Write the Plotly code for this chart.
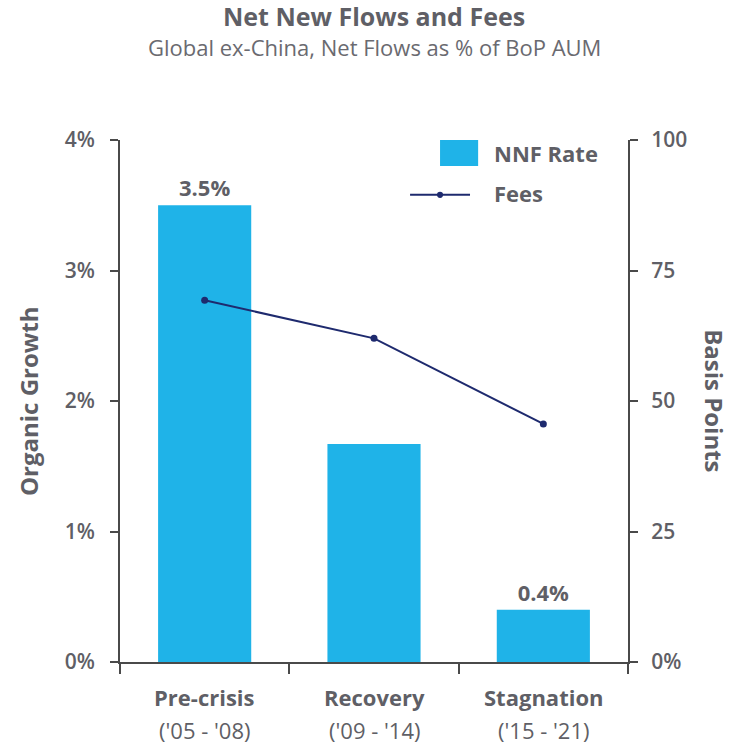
import plotly.graph_objects as go

# Data
periods = ["Pre-crisis", "Recovery", "Stagnation"]
period_years = ["('05 - '08)", "('09 - '14)", "('15 - '21)"]
nnf_rate = [3.5, 1.67, 0.4]          # organic growth, % of BoP AUM
nnf_labels = ["3.5%", "", "0.4%"]
fees_bp = [69.3, 62.0, 45.6]         # basis points

left_ticks = [0, 1, 2, 3, 4]
left_tick_text = ["0%", "1%", "2%", "3%", "4%"]
right_ticks = [0, 25, 50, 75, 100]
right_tick_text = ["0%", "25", "50", "75", "100"]

BAR_COLOR = "#1FB3E8"
LINE_COLOR = "#1E2A6E"
AXIS_COLOR = "#4a4a4a"
TEXT_COLOR = "#5f5f66"
FONT = "Open Sans"

x_idx = list(range(len(periods)))

fig = go.Figure()

fig.add_trace(go.Bar(
    x=x_idx, y=nnf_rate, width=0.55,
    marker=dict(color=BAR_COLOR, line=dict(width=0)),
    text=nnf_labels, textposition="outside", cliponaxis=False,
    textfont=dict(family=FONT, size=22, color=TEXT_COLOR, weight="bold"),
    name="NNF Rate", showlegend=False,
))

fig.add_trace(go.Scatter(
    x=x_idx, y=fees_bp, yaxis="y2", mode="lines+markers",
    line=dict(color=LINE_COLOR, width=2),
    marker=dict(color=LINE_COLOR, size=7),
    name="Fees", showlegend=False,
))

axis_common = dict(
    showline=True, linecolor=AXIS_COLOR, linewidth=2,
    ticks="outside", tickcolor=AXIS_COLOR, tickwidth=2, ticklen=8,
    showgrid=False, zeroline=False,
    tickfont=dict(family=FONT, size=21, color=TEXT_COLOR, weight=600),
)

fig.update_layout(
    width=735, height=747,
    margin=dict(l=120, r=107, t=140, b=85),
    paper_bgcolor="white", plot_bgcolor="white",
    xaxis=dict(
        range=[-0.5, 2.5], tickvals=[-0.5, 0.5, 1.5, 2.5], ticktext=["", "", "", ""],
        showline=True, linecolor=AXIS_COLOR, linewidth=2,
        ticks="outside", tickcolor=AXIS_COLOR, tickwidth=2, ticklen=10,
        showgrid=False, zeroline=False,
    ),
    yaxis=dict(range=[0, 4], tickvals=left_ticks, ticktext=left_tick_text,
               ticklabelstandoff=11, **axis_common),
    yaxis2=dict(range=[0, 100], tickvals=right_ticks, ticktext=right_tick_text,
                overlaying="y", side="right", ticklabelstandoff=9, **axis_common),
)

ann = []
# Title and subtitle
ann.append(dict(text="<b>Net New Flows and Fees</b>", xref="paper", yref="paper",
                x=0.5, y=1.0, yshift=124, xanchor="center", yanchor="middle", showarrow=False,
                font=dict(family=FONT, size=25, color=TEXT_COLOR)))
ann.append(dict(text="Global ex-China, Net Flows as % of BoP AUM", xref="paper", yref="paper",
                x=0.5, y=1.0, yshift=93, xanchor="center", yanchor="middle", showarrow=False,
                font=dict(family=FONT, size=22, color="#6a6a70")))
# Axis titles
ann.append(dict(text="<b>Organic Growth</b>", xref="paper", yref="paper",
                x=-0.181, y=0.5, xanchor="center", yanchor="middle", textangle=-90,
                showarrow=False, font=dict(family=FONT, size=24, color=TEXT_COLOR)))
ann.append(dict(text="<b>Basis Points</b>", xref="paper", yref="paper",
                x=1.171, y=0.5, xanchor="center", yanchor="middle", textangle=90,
                showarrow=False, font=dict(family=FONT, size=24, color=TEXT_COLOR)))
# Category labels (two lines)
for i, (p, yr) in enumerate(zip(periods, period_years)):
    ann.append(dict(text=f"<b>{p}</b>", x=i, xref="x", yref="paper", y=0, yshift=-35,
                    showarrow=False, yanchor="middle",
                    font=dict(family=FONT, size=22, color=TEXT_COLOR)))
    ann.append(dict(text=yr, x=i, xref="x", yref="paper", y=0, yshift=-68,
                    showarrow=False, yanchor="middle",
                    font=dict(family=FONT, size=22, color=TEXT_COLOR)))
# Legend
ann.append(dict(text="<b>NNF Rate</b>", xref="paper", yref="paper", x=0.732, y=0.975,
                xanchor="left", yanchor="middle", showarrow=False,
                font=dict(family=FONT, size=22, color=TEXT_COLOR)))
ann.append(dict(text="<b>Fees</b>", xref="paper", yref="paper", x=0.732, y=0.898,
                xanchor="left", yanchor="middle", showarrow=False,
                font=dict(family=FONT, size=22, color=TEXT_COLOR)))

shapes = [
    dict(type="rect", xref="paper", yref="paper", x0=0.63, x1=0.705, y0=0.95, y1=1.0,
         fillcolor=BAR_COLOR, line=dict(width=0)),
    dict(type="line", xref="paper", yref="paper", x0=0.571, x1=0.689, y0=0.895, y1=0.895,
         line=dict(color=LINE_COLOR, width=2)),
    dict(type="circle", xref="paper", yref="paper", x0=0.624, x1=0.636, y0=0.889, y1=0.901,
         fillcolor=LINE_COLOR, line=dict(width=0)),
]

fig.update_layout(annotations=ann, shapes=shapes)

fig.write_html("out.html")
